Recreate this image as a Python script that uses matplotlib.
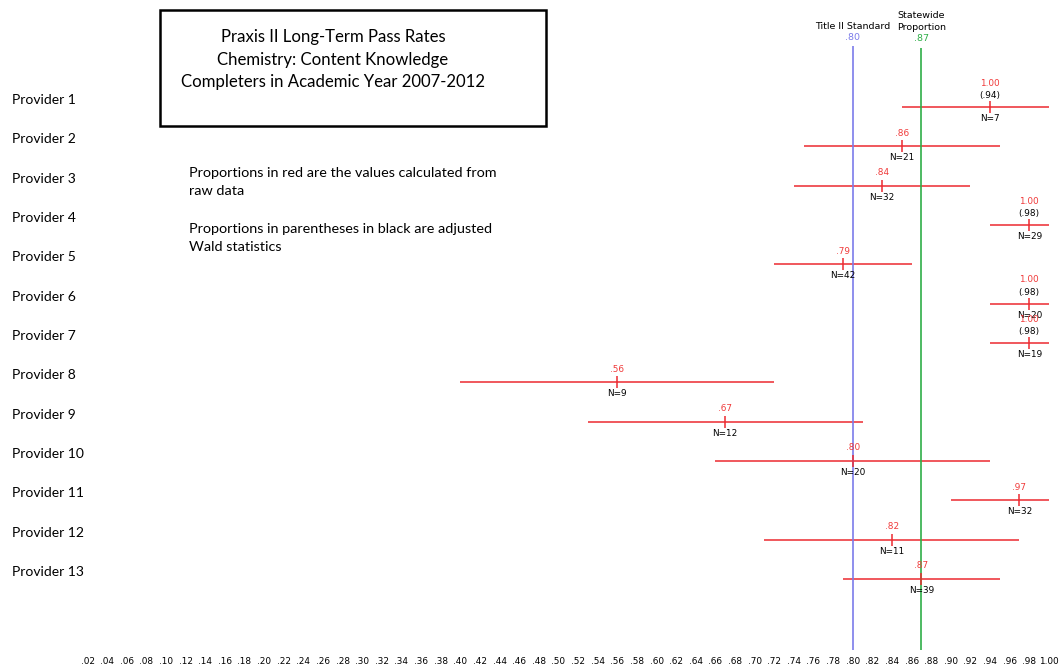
import numpy as np
import matplotlib
matplotlib.use("Agg")
import matplotlib.pyplot as plt
from matplotlib.patches import Rectangle

# values
providers = ["Provider 1", "Provider 2", "Provider 3", "Provider 4", "Provider 5",
             "Provider 6", "Provider 7", "Provider 8", "Provider 9", "Provider 10",
             "Provider 11", "Provider 12", "Provider 13"]
raw_labels = ["1.00", ".86", ".84", "1.00", ".79", "1.00", "1.00",
              ".56", ".67", ".80", ".97", ".82", ".87"]
adj_labels = ["(.94)", "", "", "(.98)", "", "(.98)", "(.98)",
              "", "", "", "", "", ""]
n_vals = [7, 21, 32, 29, 42, 20, 19, 9, 12, 20, 32, 11, 39]
centers = [0.94, 0.85, 0.83, 0.98, 0.79, 0.98, 0.98, 0.56, 0.67, 0.80, 0.97, 0.84, 0.87]
lows = [0.85, 0.75, 0.74, 0.94, 0.72, 0.94, 0.94, 0.40, 0.53, 0.66, 0.90, 0.71, 0.79]
highs = [1.00, 0.95, 0.92, 1.00, 0.86, 1.00, 1.00, 0.72, 0.81, 0.94, 1.00, 0.97, 0.95]

title2_std = 0.80
statewide = 0.87
tick_vals = np.round(np.arange(0.02, 1.001, 0.02), 2)
tick_labels = ["1.00" if t >= 1 else ("%.2f" % t)[1:] for t in tick_vals]

red_line = "#ec2a30"
red_text = "#f03a3a"
blue = "#7b7bea"
green = "#2fae48"
small = "DejaVu Sans"
big = "Lato"

fig = plt.figure(figsize=(10.6, 6.7), dpi=100)
ax = fig.add_axes([0, 20 / 670, 1, 650 / 670])

rows = np.arange(1, len(providers) + 1)
ax.set_xlim(-0.0692, 1.0113)
ax.set_ylim(14.81, -1.72)

# confidence intervals with centre tick
c = np.array(centers)
xerr = [c - np.array(lows), np.array(highs) - c]
ax.errorbar(c, rows, xerr=xerr, fmt="|", color=red_line, ecolor=red_line,
            elinewidth=1.1, markersize=9, markeredgewidth=1.1, capsize=0)

# reference lines
ax.vlines(title2_std, -0.55, 14.81, color=blue, lw=1.2)
ax.vlines(statewide, -0.5, 14.81, color=green, lw=1.2)

for x, r, raw, adj, n in zip(centers, rows, raw_labels, adj_labels, n_vals):
    if adj:
        ax.annotate(raw, (x, r), xytext=(0, 17), textcoords="offset points",
                    ha="center", va="center", fontsize=6.4, color=red_text, family=small)
        ax.annotate(adj, (x, r), xytext=(0, 8), textcoords="offset points",
                    ha="center", va="center", fontsize=6.4, color="black", family=small)
    else:
        ax.annotate(raw, (x, r), xytext=(0, 9.3), textcoords="offset points",
                    ha="center", va="center", fontsize=6.4, color=red_text, family=small)
    ax.annotate("N=%d" % n, (x, r), xytext=(0, -8.3), textcoords="offset points",
                ha="center", va="center", fontsize=6.4, color="black", family=small)

# provider names
for name, r in zip(providers, rows):
    ax.annotate(name, (12 / 1060, r), xycoords=ax.get_yaxis_transform(),
                xytext=(0, 5), textcoords="offset points",
                ha="left", va="center", fontsize=10, family=big)

# headers of the reference lines
ax.annotate("Title II Standard", (title2_std, -0.55), xytext=(0, 13.7),
            textcoords="offset points", ha="center", va="center",
            fontsize=6.8, family=small)
ax.annotate(".80", (title2_std, -0.55), xytext=(0, 5.8),
            textcoords="offset points", ha="center", va="center",
            fontsize=6.8, color=blue, family=small)
ax.annotate("Statewide", (statewide, -0.5), xytext=(0, 23.5),
            textcoords="offset points", ha="center", va="center",
            fontsize=6.8, family=small)
ax.annotate("Proportion", (statewide, -0.5), xytext=(0, 14.4),
            textcoords="offset points", ha="center", va="center",
            fontsize=6.8, family=small)
ax.annotate(".87", (statewide, -0.5), xytext=(0, 6.5),
            textcoords="offset points", ha="center", va="center",
            fontsize=6.8, color=green, family=small)

ax.set_xticks(tick_vals)
ax.set_xticklabels(tick_labels, fontsize=6.4, family=small)
ax.tick_params(axis="x", length=0, pad=5)
ax.set_yticks([])
for s in ax.spines.values():
    s.set_visible(False)
ax.patch.set_alpha(0)

# title box
fig.patches.append(Rectangle((160 / 1060, 1 - 126 / 670), 386 / 1060, 116 / 670,
                             transform=fig.transFigure, fill=False, lw=1.8, color="black"))
title_lines = ["Praxis II Long-Term Pass Rates", "Chemistry: Content Knowledge",
               "Completers in Academic Year 2007-2012"]
for i, t in enumerate(title_lines):
    fig.text(333 / 1060, 1 - (37 + 22.5 * i) / 670, t, ha="center", va="center",
             fontsize=12.1, family=big)

notes = ["Proportions in red are the values calculated from", "raw data",
         "Proportions in parentheses in black are adjusted", "Wald statistics"]
for t, y in zip(notes, [173, 191, 229, 247]):
    fig.text(189 / 1060, 1 - y / 670, t, ha="left", va="center", fontsize=10.4, family=big)

fig.savefig("out.png", dpi=100)
